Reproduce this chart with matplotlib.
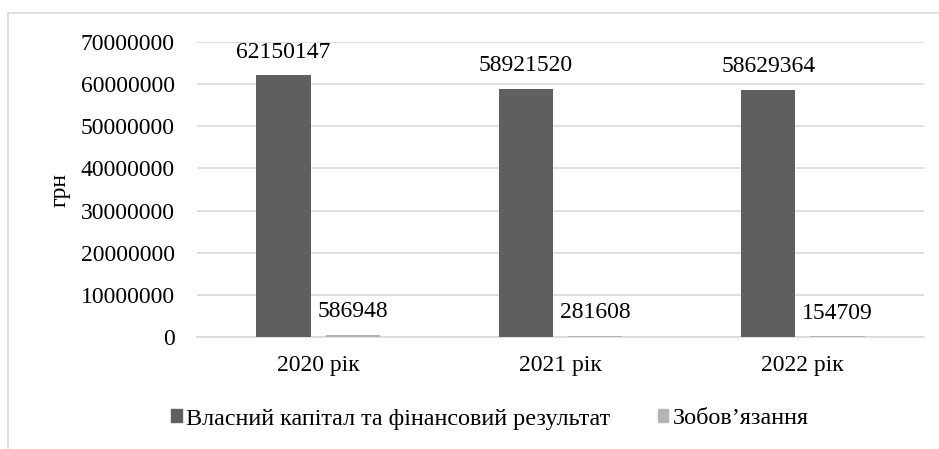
import matplotlib
matplotlib.use("Agg")
import matplotlib.pyplot as plt
import numpy as np
from matplotlib.lines import Line2D
from matplotlib.patches import Patch
from matplotlib import font_manager as fm

categories = ["2020 рік", "2021 рік", "2022 рік"]
equity = [62150147, 58921520, 58629364]
liabilities = [586948, 281608, 154709]
series_names = ["Власний капітал та фінансовий результат", "Зобов’язання"]
yticks = [0, 10000000, 20000000, 30000000, 40000000, 50000000, 60000000, 70000000]

serif_path = None
for f in fm.fontManager.ttflist:
    if f.fname.endswith("LiberationSerif-Regular.ttf"):
        serif_path = f.fname
        break
FS = 17
if serif_path:
    fp = fm.FontProperties(fname=serif_path, size=FS)
    fpl = fm.FontProperties(fname=serif_path, size=17.35)
else:
    fp = fm.FontProperties(family="serif", size=FS)
    fpl = fm.FontProperties(family="serif", size=17.35)
plt.rcParams['font.family'] = 'serif'
plt.rcParams['font.serif'] = ['Liberation Serif', 'DejaVu Serif']

fig = plt.figure(figsize=(9.39, 4.49), dpi=100)
ax = fig.add_axes([197/939, 1-337/449, (924-197)/939, (337-42)/449])

dark = "#5f5f5f"
light = "#b4b4b4"
x = np.arange(len(categories))
w = 0.223
off = 0.143
ax.bar(x - off, equity, w, color=dark, zorder=3)
ax.bar(x + off, liabilities, w, color=light, zorder=3)

for xi, v in zip(x - off, equity):
    ax.annotate(str(v), (xi, v), xytext=(0, 9), textcoords="offset points",
                ha="center", va="bottom", fontproperties=fp)
for xi, v in zip(x + off, liabilities):
    ax.annotate(str(v), (xi, v), xytext=(0, 9), textcoords="offset points",
                ha="center", va="bottom", fontproperties=fp)

ax.set_xlim(-0.5, len(categories) - 0.5)
ax.set_ylim(0, 70000000)
ax.set_yticks(yticks)
ax.set_yticklabels([str(t) for t in yticks], fontproperties=fp)
ax.set_xticks(x)
ax.set_xticklabels(categories, fontproperties=fp)
ax.tick_params(axis='y', length=0, pad=16)
ax.tick_params(axis='x', length=0, pad=13)
ax.grid(axis='y', color="#d9d9d9", linewidth=1.2, zorder=0)
for s in ["top", "right", "left"]:
    ax.spines[s].set_visible(False)
ax.spines["bottom"].set_color("#d9d9d9")
ax.spines["bottom"].set_linewidth(1.2)
fig.text(60/939, 1-190/449, "грн", rotation=90, ha="center", va="center", fontproperties=fp)

handles = [Patch(color=dark), Patch(color=light)]
fig.legend(handles, series_names, loc="center", bbox_to_anchor=(490/939, 1-419/449),
           ncol=2, frameon=False, prop=fpl, handlelength=0.45, handleheight=0.45,
           handletextpad=0.2, columnspacing=1.95)

fx = 8/939
fy = 1-13/449
fig.add_artist(Line2D([fx, 1], [fy, fy], transform=fig.transFigure, color="#d9d9d9", linewidth=1.2))
fig.add_artist(Line2D([fx, fx], [0, fy], transform=fig.transFigure, color="#d9d9d9", linewidth=1.2))

fig.savefig("out.png", dpi=100)
